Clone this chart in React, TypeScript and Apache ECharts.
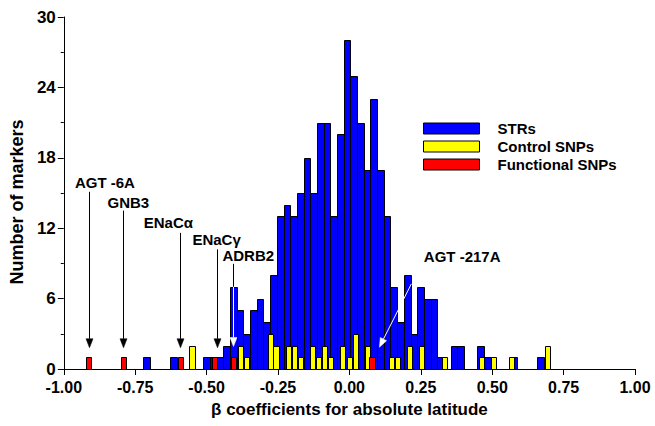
import React, { useEffect, useRef } from "react";
import * as echarts from "echarts";

// ---- Data ----
// STR histogram: 60 equal-width bins starting at STR_BIN_START
const STR_BIN_START = -0.722;
const STR_BIN_WIDTH = 0.0234;
const strCounts = [
  1, 0, 0, 0, 1, 0, 0, 0, 0, 1,
  1, 1, 2, 7, 5, 3, 5, 6, 4, 8,
  13, 14, 13, 15, 18, 15, 21, 21, 13, 20,
  28, 25, 21, 17, 23, 17, 13, 7, 4, 8,
  3, 7, 6, 6, 1, 0, 2, 2, 0, 0,
  2, 1, 0, 0, 0, 1, 0, 0, 0, 1,
];

// Control SNP bars (centre β, count)
const controlX = [
  -0.551, -0.382, -0.36, -0.277, -0.257, -0.212, -0.192, -0.171, -0.128, -0.107,
  -0.086, -0.065, -0.023, 0.0, 0.02, 0.062, 0.148, 0.167, 0.211, 0.251,
  0.333, 0.463, 0.506, 0.568, 0.694,
];
const controlCounts = [2, 2, 1, 3, 2, 2, 2, 1, 2, 1, 2, 1, 2, 1, 3, 2, 1, 1, 2, 2, 1, 1, 1, 1, 2];

// Functional SNP bars
const functionalX = [-0.913, -0.791, -0.591, -0.471, -0.405, 0.079];
const functionalCounts = [1, 1, 1, 1, 1, 1];
const SNP_BAR_WIDTH = 0.018;

// Arrow annotations
const annoLabels = ["AGT -6A", "GNB3", "ENaCα", "ENaCγ", "ADRB2", "AGT -217A"];
const annoLabelX = [-0.856, -0.774, -0.634, -0.465, -0.354, 0.395];
const annoLabelY = [15.9, 14.15, 12.5, 11.0, 9.64, 9.58];
const annoTailX = [-0.913, -0.792, -0.592, -0.462, -0.408, 0.217];
const annoTailY = [15.1, 13.5, 11.6, 10.2, 8.96, 7.26];
const annoTipX = [-0.913, -0.792, -0.592, -0.462, -0.408, 0.105];
const annoTipY = [1.81, 1.81, 1.81, 1.81, 1.92, 1.86];
const annoWhiteBelow = [0, 0, 0, 0, 7, 30];

const seriesNames = ["STRs", "Control SNPs", "Functional SNPs"];
const seriesColors = ["#0000ff", "#ffff00", "#ff0000"];

const FONT = '"Liberation Sans", Arial, Helvetica, sans-serif';

function barRender(color: string) {
  return (params: any, api: any) => {
    const a = api.coord([api.value(0), api.value(2)]);
    const b = api.coord([api.value(1), 0]);
    const x0 = Math.round(a[0]) + 0.5;
    const x1 = Math.round(b[0]) + 0.5;
    const y0 = Math.round(a[1]) + 0.5;
    const y1 = Math.round(b[1]) + 0.5;
    return {
      type: "rect",
      shape: { x: x0, y: y0, width: x1 - x0, height: y1 - y0 },
      style: { fill: color, stroke: "#000", lineWidth: 1 },
    };
  };
}

function annoRender(params: any, api: any) {
  const i = params.dataIndex;
  const tail = api.coord([annoTailX[i], annoTailY[i]]);
  const tip = api.coord([annoTipX[i], annoTipY[i]]);
  const lab = api.coord([annoLabelX[i], annoLabelY[i]]);
  const dx = tip[0] - tail[0];
  const dy = tip[1] - tail[1];
  const len = Math.hypot(dx, dy);
  const ux = dx / len;
  const uy = dy / len;
  const headLen = 9;
  const headHalf = 3.5;
  const vertical = Math.abs(dx) < 0.5;
  const snap = (v: number) => (vertical ? Math.round(v) + 0.5 : v);
  const tx = snap(tail[0]);
  const px = snap(tip[0]);
  const base = [px - ux * headLen, tip[1] - uy * headLen];
  const left = [base[0] - uy * headHalf, base[1] + ux * headHalf];
  const right = [base[0] + uy * headHalf, base[1] - ux * headHalf];
  const yW = api.coord([0, annoWhiteBelow[i]])[1];
  const children: any[] = [];
  if (yW <= tail[1]) {
    children.push({
      type: "line",
      shape: { x1: tx, y1: tail[1], x2: base[0], y2: base[1] },
      style: { stroke: "#fff", lineWidth: 1 },
    });
  } else if (yW >= base[1]) {
    children.push({
      type: "line",
      shape: { x1: tx, y1: tail[1], x2: base[0], y2: base[1] },
      style: { stroke: "#000", lineWidth: 1 },
    });
  } else {
    const t = (yW - tail[1]) / (base[1] - tail[1]);
    const mx = tx + (base[0] - tx) * t;
    children.push({
      type: "line",
      shape: { x1: tx, y1: tail[1], x2: mx, y2: yW },
      style: { stroke: "#000", lineWidth: 1 },
    });
    children.push({
      type: "line",
      shape: { x1: mx, y1: yW, x2: base[0], y2: base[1] },
      style: { stroke: "#fff", lineWidth: 1 },
    });
  }
  const headWhite = tip[1] > yW;
  children.push({
    type: "polygon",
    shape: { points: [[px, tip[1]], left, right] },
    style: { fill: headWhite ? "#fff" : "#000", stroke: headWhite ? "#fff" : "#000", lineWidth: 0.5 },
  });
  children.push({
    type: "text",
    style: {
      x: lab[0],
      y: lab[1],
      text: annoLabels[i],
      fill: "#000",
      fontSize: 15,
      fontWeight: "bold",
      fontFamily: FONT,
      align: "center",
      verticalAlign: "middle",
    },
  });
  return { type: "group", children };
}

export default function App() {
  const ref = useRef<HTMLDivElement>(null);

  useEffect(() => {
    if (!ref.current) return;
    const chart = echarts.init(ref.current, undefined, { renderer: "svg" });

    const strData = strCounts
      .map((c, i) => [STR_BIN_START + i * STR_BIN_WIDTH, STR_BIN_START + (i + 1) * STR_BIN_WIDTH, c])
      .filter((d) => d[2] > 0);
    const snpData = (xs: number[], cs: number[]) =>
      xs.map((x, i) => [x - SNP_BAR_WIDTH / 2, x + SNP_BAR_WIDTH / 2, cs[i]]);
    const controlData = snpData(controlX, controlCounts);
    const functionalData = snpData(functionalX, functionalCounts);

    const datasets = [strData, controlData, functionalData];

    const option: any = {
      animation: false,
      backgroundColor: "#fff",
      grid: { left: 57, right: 20, top: 17, bottom: 57 },
      legend: {
        orient: "vertical",
        left: 423,
        top: 121,
        padding: 0,
        itemWidth: 56,
        itemHeight: 11,
        itemGap: 3,
        selectedMode: false,
        textStyle: {
          color: "#000",
          fontSize: 15,
          fontWeight: "bold",
          fontFamily: FONT,
          padding: [0, 0, 0, 13],
        },
        data: seriesNames.map((n, i) => ({
          name: n,
          icon: "rect",
          itemStyle: { color: seriesColors[i], borderColor: "#000", borderWidth: 1 },
        })),
      },
      xAxis: {
        type: "value",
        min: -1,
        max: 1,
        interval: 0.25,
        axisLine: { show: true, onZero: false, lineStyle: { color: "#000", width: 1 } },
        axisTick: { show: true, length: 6, lineStyle: { color: "#000" } },
        axisLabel: {
          color: "#000",
          fontSize: 16,
          fontWeight: "bold",
          fontFamily: FONT,
          margin: 10,
          formatter: (v: number) => v.toFixed(2),
        },
        splitLine: { show: false },
        name: "β coefficients for absolute latitude",
        nameLocation: "middle",
        nameGap: 32,
        nameTextStyle: { color: "#000", fontSize: 17, fontWeight: "bold", fontFamily: FONT },
      },
      yAxis: {
        type: "value",
        min: 0,
        max: 30,
        interval: 6,
        axisLine: { show: true, onZero: false, lineStyle: { color: "#000", width: 1 } },
        axisTick: { show: true, length: 6, lineStyle: { color: "#000" } },
        minorTick: { show: true, splitNumber: 2, length: 3, lineStyle: { color: "#000" } },
        axisLabel: { color: "#000", fontSize: 17, fontWeight: "bold", fontFamily: FONT, margin: 8 },
        splitLine: { show: false },
        minorSplitLine: { show: false },
        name: "Number of markers",
        nameLocation: "middle",
        nameGap: 27,
        nameTextStyle: {
          color: "#000",
          fontSize: 18,
          fontWeight: "bold",
          fontFamily: FONT,
          padding: [0, 18, 0, 0],
        },
      },
      series: [
        ...seriesNames.map((n, k) => ({
          type: "custom",
          name: n,
          renderItem: barRender(seriesColors[k]),
          data: datasets[k],
          encode: { x: [0, 1], y: 2 },
          itemStyle: { color: seriesColors[k], borderColor: "#000", borderWidth: 1 },
          z: 2 + k,
          silent: true,
        })),
        {
          type: "custom",
          name: "annotations",
          renderItem: annoRender,
          data: annoLabels.map((_, i) => [annoTipX[i], annoTipY[i]]),
          encode: { x: 0, y: 1 },
          z: 10,
          silent: true,
        },
      ],
    };

    chart.setOption(option);
    return () => chart.dispose();
  }, []);

  return (
    <div
      ref={ref}
      style={{ position: "fixed", left: 0, top: 0, width: 655, height: 426, background: "#fff" }}
    />
  );
}
